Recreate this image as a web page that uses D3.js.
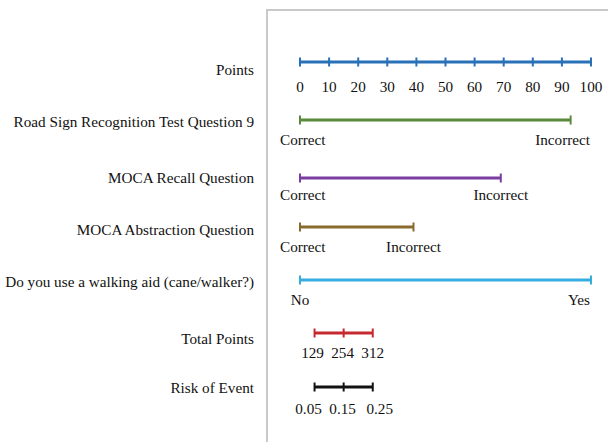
<!DOCTYPE html>
<html>
<head>
<meta charset="utf-8">
<script src="https://cdn.jsdelivr.net/npm/d3@7"></script>
<style>
  html, body { margin: 0; padding: 0; background: #fff; }
  svg { display: block; }
  text { font-family: "Liberation Serif", "Times New Roman", serif; font-size: 15.2px; fill: #111; }
</style>
</head>
<body>
<svg id="chart" width="608" height="442"></svg>
<script>
// ---- data ----
const variables = ["Points", "Road Sign Recognition Test Question 9", "MOCA Recall Question",
  "MOCA Abstraction Question", "Do you use a walking aid (cane/walker?)", "Total Points", "Risk of Event"];
const pointTicks = [0, 10, 20, 30, 40, 50, 60, 70, 80, 90, 100];
const roadSignLevels = ["Correct", "Incorrect"];
const roadSignPoints = [0, 93];
const recallLevels = ["Correct", "Incorrect"];
const recallPoints = [0, 69];
const abstractionLevels = ["Correct", "Incorrect"];
const abstractionPoints = [0, 39];
const walkingAidLevels = ["No", "Yes"];
const walkingAidPoints = [0, 100];
const totalPointLabels = ["129", "254", "312"];
const riskTicks = [0.05, 0.15, 0.25];
const colors = ["#2870b8", "#5a8a3c", "#7a3da0", "#8a6a2e", "#36ade0", "#c62a30", "#111111"];

// ---- layout ----
const svg = d3.select("#chart");
const x = d3.scaleLinear().domain([0, 100]).range([300, 591]);
const riskX = d3.scaleLinear().domain([0, 1]).range([x(0), x(100)]);
const totalX = d3.scalePoint().domain(totalPointLabels).range([riskX(riskTicks[0]), riskX(riskTicks[riskTicks.length - 1])]);
const lineY = {"Points": 62, "Road Sign Recognition Test Question 9": 120, "MOCA Recall Question": 178,
  "MOCA Abstraction Question": 227, "Do you use a walking aid (cane/walker?)": 280, "Total Points": 333, "Risk of Event": 387};
const labelDy = {"Points": 13, "Road Sign Recognition Test Question 9": 7, "MOCA Recall Question": 5,
  "MOCA Abstraction Question": 8, "Do you use a walking aid (cane/walker?)": 7, "Total Points": 11, "Risk of Event": 6};
const tickLabelDy = {"Points": 30, "Road Sign Recognition Test Question 9": 25, "MOCA Recall Question": 22,
  "MOCA Abstraction Question": 25, "Do you use a walking aid (cane/walker?)": 25, "Total Points": 25, "Risk of Event": 27};

// panel frame
svg.append("path")
  .attr("d", "M267,442 V10 H608")
  .attr("fill", "none").attr("stroke", "#c9c9c9").attr("stroke-width", 2);

// variable labels
svg.selectAll("text.var").data(variables).enter().append("text")
  .attr("class", "var")
  .attr("x", 254)
  .attr("y", d => lineY[d] + labelDy[d])
  .attr("text-anchor", "end")
  .text(d => d);

function drawRow(name, color, positions, labels, opts) {
  opts = opts || {};
  const y = lineY[name];
  const g = svg.append("g");
  const x0 = d3.min(positions), x1 = d3.max(positions);
  g.append("line").attr("x1", x0).attr("x2", x1).attr("y1", y).attr("y2", y)
    .attr("stroke", color).attr("stroke-width", 3);
  g.selectAll("line.tk").data(positions).enter().append("line")
    .attr("class", "tk")
    .attr("x1", d => d).attr("x2", d => d)
    .attr("y1", y - 4.5).attr("y2", y + 4.5)
    .attr("stroke", color).attr("stroke-width", 2);
  g.selectAll("text").data(labels).enter().append("text")
    .attr("x", (d, i) => positions[i])
    .attr("y", y + tickLabelDy[name])
    .attr("text-anchor", "middle")
    .text(d => d)
    .each(function (d, i) {
      const w = this.getComputedTextLength();
      let nx = positions[i] + (opts.spread ? opts.spread[i] : 0);
      if (opts.clamp) {
        if (nx + w / 2 > x(100) - 1) nx = x(100) - 1 - w / 2;
        if (nx - w / 2 < 280) nx = 280 + w / 2;
      }
      d3.select(this).attr("x", nx);
    });
}

drawRow(variables[0], colors[0], pointTicks.map(x), pointTicks.map(String));
drawRow(variables[1], colors[1], roadSignPoints.map(x), roadSignLevels, {clamp: true});
drawRow(variables[2], colors[2], recallPoints.map(x), recallLevels, {clamp: true});
drawRow(variables[3], colors[3], abstractionPoints.map(x), abstractionLevels, {clamp: true});
drawRow(variables[4], colors[4], walkingAidPoints.map(x), walkingAidLevels, {clamp: true});
drawRow(variables[5], colors[5], totalPointLabels.map(d => totalX(d)), totalPointLabels, {spread: [-2, -1, 0]});
drawRow(variables[6], colors[6], riskTicks.map(riskX), riskTicks.map(d => d3.format(".2f")(d)), {spread: [-6, -1, 7]});
</script>
</body>
</html>
